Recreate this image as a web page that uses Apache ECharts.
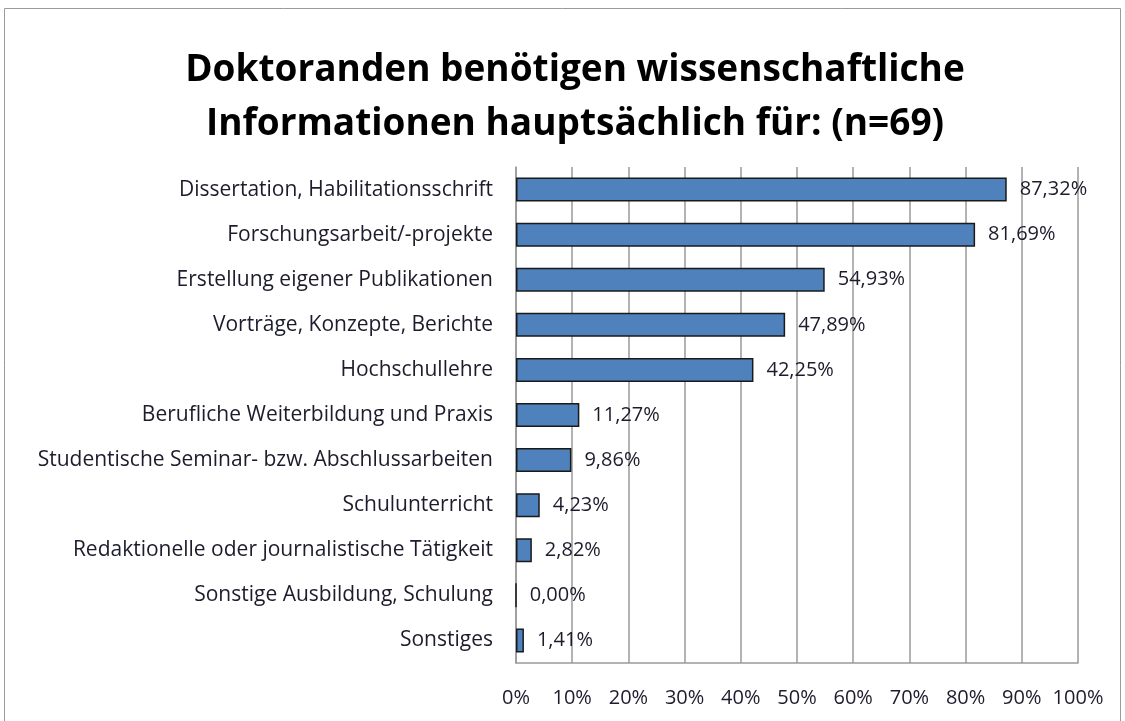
<!DOCTYPE html>
<html>
<head>
<meta charset="utf-8">
<script src="https://cdn.jsdelivr.net/npm/echarts@6/dist/echarts.min.js"></script>
<style>
  html, body { margin: 0; padding: 0; background: #fff; }
  #chart { width: 1125px; height: 721px; }
</style>
</head>
<body>
<div id="chart"></div>
<script>
// categories top to bottom, as in the picture
const categories = [
  'Dissertation, Habilitationsschrift',
  'Forschungsarbeit/-projekte',
  'Erstellung eigener Publikationen',
  'Vorträge, Konzepte, Berichte',
  'Hochschullehre',
  'Berufliche Weiterbildung und Praxis',
  'Studentische Seminar- bzw. Abschlussarbeiten',
  'Schulunterricht',
  'Redaktionelle oder journalistische Tätigkeit',
  'Sonstige Ausbildung, Schulung',
  'Sonstiges'
];
const shares = [87.32, 81.69, 54.93, 47.89, 42.25, 11.27, 9.86, 4.23, 2.82, 0.00, 1.41];
const titleLines = ['Doktoranden benötigen wissenschaftliche', 'Informationen hauptsächlich für: (n=69)'];

const font = '"Open Sans", sans-serif';
const textColor = '#1c1c2c';

const chart = echarts.init(document.getElementById('chart'));
chart.setOption({
  backgroundColor: '#fff',
  animation: false,
  graphic: [{
    type: 'rect',
    shape: { x: 4.5, y: 8.5, width: 1116, height: 720 },
    style: { fill: 'none', stroke: '#9a9a9a', lineWidth: 1 },
    silent: true
  }],
  title: {
    text: titleLines.join('\n'),
    left: 570,
    textAlign: 'center',
    top: 38,
    textStyle: {
      fontFamily: font,
      fontSize: 37,
      fontWeight: 'bold',
      color: '#000',
      lineHeight: 54
    }
  },
  grid: {
    left: 516,
    top: 167,
    width: 562,
    height: 496,
    containLabel: false
  },
  xAxis: {
    type: 'value',
    min: 0,
    max: 100,
    interval: 10,
    axisLine: { show: true, lineStyle: { color: '#9a9a9a', width: 1.5 } },
    axisTick: { show: false },
    splitLine: { show: true, lineStyle: { color: '#9a9a9a', width: 1.5 } },
    axisLabel: {
      margin: 25,
      fontFamily: font,
      fontSize: 20,
      color: textColor,
      formatter: v => v + '%'
    }
  },
  yAxis: {
    type: 'category',
    inverse: true,
    data: categories,
    axisLine: { show: true, lineStyle: { color: '#9a9a9a', width: 1.5 } },
    axisTick: { show: false },
    axisLabel: {
      margin: 23,
      fontFamily: font,
      fontSize: 21,
      color: textColor
    }
  },
  series: [{
    type: 'bar',
    data: shares,
    barWidth: 24,
    itemStyle: { color: '#4F81BD', borderColor: '#1a1a1a', borderWidth: 1.5 },
    label: {
      show: true,
      position: 'right',
      distance: 13,
      fontFamily: font,
      fontSize: 20,
      color: textColor,
      formatter: p => p.value.toFixed(2).replace('.', ',') + '%'
    }
  }]
});
</script>
</body>
</html>
